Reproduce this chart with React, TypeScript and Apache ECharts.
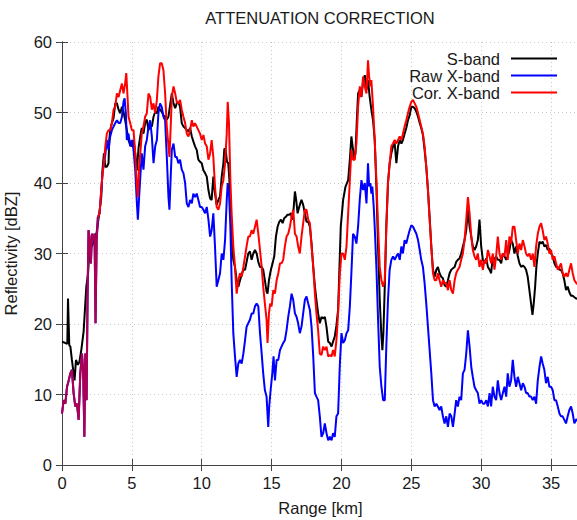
import React, { useEffect, useRef } from "react";
import * as echarts from "echarts";

// Chart text
const TITLE = "ATTENUATION CORRECTION";
const X_NAME = "Range [km]";
const Y_NAME = "Reflectivity [dBZ]";
const SERIES_NAMES = ["S-band", "Raw X-band", "Cor. X-band"];
const X_MIN = 0;
const X_MAX = 37;
const X_STEP = 5;
const Y_MIN = 0;
const Y_MAX = 60;
const Y_STEP = 10;

// S-band reflectivity [km, dBZ]
const sBand: [number, number][] = [
  [0, 17.5], [0.24, 17.3], [0.38, 17.2], [0.43, 23.6], [0.52, 17], [0.6, 16.8], [0.71, 14.9], [0.83, 13], [0.9, 12], [1.0, 14.9],
  [1.14, 14.2], [1.24, 14.6], [1.38, 16.3], [1.55, 19], [1.67, 23], [1.74, 25.3], [1.86, 27], [1.98, 31], [2.14, 31], [2.33, 32],
  [2.48, 33], [2.57, 34.3], [2.69, 36], [2.81, 38], [2.9, 41.9], [3.0, 44.2], [3.1, 42.3], [3.21, 42.3], [3.33, 42.8], [3.38, 46],
  [3.45, 47.5], [3.57, 48.5], [3.69, 49.2], [3.81, 51.3], [3.93, 51.3], [4.05, 50.4], [4.17, 49.9], [4.29, 50.8], [4.4, 50.1], [4.52, 48.9],
  [4.64, 47.5], [4.76, 46.1], [4.88, 45.4], [5.0, 45.2], [5.12, 46.1], [5.24, 44.2], [5.36, 41.8], [5.48, 45], [5.6, 46.6], [5.71, 47.8],
  [5.83, 47], [5.95, 48.5], [6.07, 49], [6.19, 47.5], [6.31, 48.2], [6.43, 48], [6.55, 49.4], [6.67, 50.1], [6.79, 49.9], [6.9, 50.8],
  [7.02, 50.4], [7.14, 50.1], [7.26, 49.6], [7.38, 49.4], [7.5, 49], [7.62, 49.4], [7.74, 51.1], [7.86, 52.7], [7.98, 51.3], [8.1, 50.6],
  [8.21, 51.3], [8.33, 51.5], [8.45, 50.8], [8.57, 48.5], [8.69, 48], [8.81, 47.8], [8.93, 47.5], [9.05, 47.3], [9.17, 47.8], [9.29, 46.6],
  [9.4, 45.9], [9.52, 45.2], [9.64, 44.7], [9.76, 43.3], [9.88, 43], [10, 42.8], [10.12, 41.8], [10.24, 41.4], [10.36, 40.9], [10.48, 39],
  [10.6, 37.8], [10.71, 37.6], [10.83, 40.9], [10.95, 38.5], [11.07, 36.9], [11.19, 37.6], [11.31, 38.1], [11.43, 40.9], [11.55, 42.8], [11.62, 44.9],
  [11.71, 44.7], [11.81, 43], [11.9, 42.8], [11.98, 40.4], [12.07, 35.7], [12.14, 31.9], [12.26, 29.1], [12.38, 28.1], [12.5, 26.2], [12.62, 25.3],
  [12.74, 26.2], [12.86, 27], [12.98, 27.7], [13.1, 27.7], [13.21, 28.8], [13.33, 30], [13.45, 30.3], [13.57, 29.1], [13.69, 30], [13.81, 30.5],
  [13.93, 30], [14.05, 28.8], [14.17, 28.1], [14.29, 28.1], [14.4, 27.7], [14.52, 26.2], [14.64, 24.6], [14.71, 24.3], [14.81, 26.2], [14.95, 27.7],
  [15.07, 28.6], [15.19, 29.6], [15.31, 32.4], [15.43, 33.8], [15.55, 34.5], [15.67, 34.8], [15.79, 34.3], [15.9, 35], [16.02, 35.2], [16.14, 35.5],
  [16.26, 35.5], [16.38, 35.7], [16.48, 34.8], [16.57, 36.2], [16.67, 38.8], [16.76, 37.6], [16.86, 35.7], [16.95, 36.4], [17.05, 37.1], [17.14, 37.6],
  [17.26, 36.9], [17.38, 35.7], [17.5, 34.5], [17.62, 34.5], [17.74, 33.8], [17.86, 31.4], [17.98, 28.1], [18.1, 25.3], [18.21, 23.4], [18.33, 21.5],
  [18.45, 20.1], [18.57, 21], [18.69, 20.8], [18.81, 21], [18.93, 19.6], [19.05, 17.5], [19.17, 17.3], [19.29, 16.8], [19.4, 17.5], [19.52, 18.2],
  [19.64, 19.8], [19.76, 22], [19.84, 27], [19.95, 33.8], [20.12, 37.6], [20.29, 39.5], [20.48, 40.4], [20.6, 43.3], [20.71, 46.6], [20.83, 44.7],
  [20.9, 43.3], [21.0, 44.2], [21.1, 48.9], [21.19, 52.7], [21.31, 53.2], [21.43, 52.2], [21.55, 54.4], [21.67, 55.3], [21.79, 53.2], [21.9, 54.6],
  [22.02, 52.2], [22.14, 50.4], [22.26, 48.9], [22.38, 46.1], [22.5, 39.5], [22.62, 30.9], [22.74, 23.4], [22.86, 18.2], [22.93, 16.3], [23.0, 18.7],
  [23.1, 25.3], [23.21, 33.8], [23.33, 40], [23.45, 42.8], [23.57, 44.2], [23.69, 45.2], [23.81, 45.6], [23.93, 42.8], [24.05, 45.2], [24.17, 46.1],
  [24.29, 45.6], [24.4, 46.1], [24.52, 47], [24.64, 47.8], [24.76, 48.9], [24.88, 49.6], [25.0, 50.8], [25.12, 50.8], [25.24, 50.6], [25.36, 50.1],
  [25.48, 49.4], [25.6, 48.5], [25.71, 47.8], [25.83, 46.8], [25.95, 44.7], [26.07, 42.3], [26.19, 39], [26.31, 35.2], [26.43, 31], [26.55, 27.7],
  [26.67, 26.7], [26.79, 27.7], [26.9, 28.1], [27.02, 27.2], [27.14, 26.7], [27.26, 26.5], [27.38, 25.5], [27.5, 25.3], [27.62, 26.2], [27.74, 27.2],
  [27.86, 27.7], [27.98, 27.9], [28.1, 28.1], [28.21, 28.8], [28.33, 29.1], [28.45, 29.3], [28.57, 30], [28.69, 31], [28.81, 31.9], [28.93, 33.3],
  [29.05, 36.2], [29.17, 33.8], [29.29, 32.4], [29.4, 31], [29.52, 30.5], [29.64, 31], [29.76, 31.9], [29.88, 34.8], [30.0, 31], [30.12, 29.1],
  [30.24, 28.6], [30.36, 29.3], [30.48, 28.1], [30.6, 27.7], [30.71, 27.2], [30.83, 29.6], [30.95, 29.1], [31.07, 29.6], [31.19, 29.1], [31.31, 29.1],
  [31.43, 28.6], [31.55, 30], [31.67, 29.6], [31.79, 29.1], [31.9, 29.6], [32.02, 30.5], [32.14, 31.9], [32.26, 31.4], [32.38, 30], [32.5, 31],
  [32.62, 29.6], [32.74, 28.6], [32.86, 28.1], [32.98, 28.3], [33.1, 28.1], [33.21, 27.7], [33.33, 26.7], [33.45, 24.8], [33.57, 22.9], [33.67, 21.3],
  [33.76, 22.9], [33.86, 25.3], [33.95, 28.1], [34.05, 30], [34.17, 31.7], [34.29, 31.4], [34.4, 31.7], [34.52, 31], [34.64, 31.2], [34.76, 30.5],
  [34.88, 30.7], [35.0, 30], [35.12, 29.6], [35.24, 28.6], [35.36, 28.1], [35.48, 28.1], [35.6, 27.7], [35.71, 27.7], [35.83, 27.2], [35.95, 26.2],
  [36.07, 24.8], [36.19, 25.3], [36.31, 24.5], [36.43, 24], [36.55, 24], [36.67, 23.8], [36.81, 23.6], [37, 23.5],
];

// Raw X-band reflectivity [km, dBZ]
const rawXBand: [number, number][] = [
  [0, 7.3], [0.12, 9.2], [0.24, 8.7], [0.36, 11.1], [0.48, 12], [0.6, 13], [0.71, 13.5], [0.83, 10.2], [0.95, 8.3], [1.07, 8.7],
  [1.19, 6.4], [1.31, 13], [1.43, 15.8], [1.52, 13], [1.6, 4], [1.67, 15.8], [1.76, 9.2], [1.83, 24.3], [1.9, 33.3], [1.98, 31.9],
  [2.07, 28.6], [2.14, 32.8], [2.24, 31.9], [2.33, 32.8], [2.4, 20.1], [2.48, 31.9], [2.57, 35.2],
  [2.69, 35.7], [2.81, 39], [2.9, 41.4], [3.0, 42.8], [3.1, 44], [3.21, 46.1], [3.33, 44.7], [3.45, 46.6], [3.57, 47.5], [3.69, 48],
  [3.81, 48.5], [3.93, 48.9], [4.05, 48.5], [4.17, 48.5], [4.29, 49.4], [4.4, 51.5], [4.48, 52], [4.57, 49.9], [4.64, 46.1], [4.76, 47],
  [4.88, 45.2], [5.0, 46.1], [5.12, 44.7], [5.24, 41.9], [5.36, 37.1], [5.43, 34.8], [5.52, 38], [5.62, 41.4], [5.71, 44.2], [5.83, 41.9],
  [5.95, 45.2], [6.07, 46.1], [6.19, 48], [6.31, 48.9], [6.43, 46.6], [6.55, 42.8], [6.67, 45.2], [6.79, 46.1], [6.9, 49.9], [7.02, 51.3],
  [7.14, 50.8], [7.26, 49.4], [7.38, 48.9], [7.5, 43.7], [7.62, 38], [7.69, 36.2], [7.79, 41.4], [7.86, 44.7], [7.98, 45.6], [8.1, 43.7],
  [8.21, 43.7], [8.33, 42.8], [8.45, 43.3], [8.57, 41.9], [8.69, 41.4], [8.81, 40], [8.93, 37.1], [9.05, 36.6], [9.17, 37.6], [9.29, 37.1],
  [9.4, 38.5], [9.52, 38], [9.64, 38.5], [9.76, 37.6], [9.88, 36.6], [10, 36.6], [10.12, 36.2], [10.24, 35.7], [10.36, 36.6], [10.48, 34.8],
  [10.6, 32.4], [10.71, 33.3], [10.83, 35.7], [10.95, 31], [11.07, 25.3], [11.19, 26.2], [11.31, 27.2], [11.43, 30], [11.55, 29.1], [11.67, 31.9],
  [11.79, 37.6], [11.86, 40], [11.95, 38.5], [12.05, 33.8], [12.14, 26.2], [12.26, 18.7], [12.38, 15.4], [12.5, 12.5], [12.62, 14.4], [12.74, 14.9],
  [12.86, 14.4], [12.98, 15.8], [13.1, 17.7], [13.21, 19.6], [13.33, 20.1], [13.45, 20.6], [13.57, 21.5], [13.69, 21.5], [13.81, 22.5], [13.93, 22.9],
  [14.05, 22.5], [14.17, 18.7], [14.29, 15.8], [14.4, 13], [14.52, 10.6], [14.64, 9.7], [14.76, 5.4], [14.83, 8.3], [14.93, 10.6], [15.05, 13],
  [15.14, 15.4], [15.24, 12], [15.36, 14.9], [15.48, 14.9], [15.6, 16.3], [15.71, 16.8], [15.83, 17.3], [15.95, 17.7], [16.07, 19.1], [16.19, 21],
  [16.31, 22.5], [16.43, 24.3], [16.55, 23.4], [16.67, 21.5], [16.79, 21], [16.9, 20.1], [17.02, 18.7], [17.14, 19.6], [17.26, 21.5], [17.38, 23.4],
  [17.5, 23.9], [17.62, 22.9], [17.74, 22], [17.86, 19.6], [17.98, 15.4], [18.1, 10.2], [18.21, 9.7], [18.33, 9.2], [18.45, 6.9], [18.57, 4],
  [18.69, 4.5], [18.81, 5.9], [18.93, 4.5], [19.05, 3.5], [19.17, 4], [19.29, 3.5], [19.4, 4.5], [19.52, 4], [19.64, 6.9], [19.76, 7.3],
  [19.88, 14], [20, 18.7], [20.12, 17.3], [20.24, 17.7], [20.36, 18.7], [20.48, 19.1], [20.6, 22.5], [20.71, 27.2], [20.83, 32.8], [20.95, 32.4],
  [21.07, 31.4], [21.19, 33.8], [21.31, 37.6], [21.43, 40.4], [21.55, 39], [21.67, 40], [21.79, 37.1], [21.9, 42.8], [21.98, 39.5], [22.07, 40],
  [22.14, 38.5], [22.21, 39.5], [22.31, 36.6], [22.38, 33.8], [22.5, 28.1], [22.62, 20.6], [22.74, 13.9], [22.86, 11.1], [22.98, 9.2], [23.1, 9.2],
  [23.21, 16.8], [23.33, 23.4], [23.45, 27.7], [23.57, 29.1], [23.69, 29.6], [23.81, 29.1], [23.93, 29.6], [24.05, 30], [24.17, 29.1], [24.29, 31],
  [24.4, 30], [24.52, 31.9], [24.64, 31.4], [24.76, 32.4], [24.88, 33.3], [25.0, 34], [25.12, 33.8], [25.24, 33.3], [25.36, 32.8], [25.48, 31.9],
  [25.6, 30.5], [25.71, 29.1], [25.83, 28.1], [25.95, 25.8], [26.07, 22.9], [26.19, 19.6], [26.31, 16.3], [26.43, 13], [26.55, 9.2], [26.67, 8.3],
  [26.79, 8.7], [26.9, 8.3], [27.02, 7.8], [27.14, 8.3], [27.26, 6.9], [27.38, 5.9], [27.5, 6.9], [27.62, 5.4], [27.74, 7.3], [27.86, 6.9],
  [27.98, 5.4], [28.1, 7.3], [28.21, 9.2], [28.33, 8.3], [28.45, 9.7], [28.57, 9.2], [28.69, 13], [28.81, 13.5], [28.93, 15.8], [29.05, 19.1],
  [29.17, 16.8], [29.29, 13.9], [29.4, 12.5], [29.52, 11.1], [29.64, 10.6], [29.76, 10.2], [29.88, 8.7], [30, 9.2], [30.12, 8.7], [30.24, 8.7],
  [30.36, 9.2], [30.48, 8.3], [30.6, 10.2], [30.71, 8.3], [30.83, 11.1], [30.95, 9.7], [31.07, 9.2], [31.19, 12], [31.31, 10.2], [31.43, 9.2],
  [31.55, 10.2], [31.67, 11.1], [31.79, 9.7], [31.9, 13], [32.02, 11.1], [32.14, 12], [32.26, 14.9], [32.38, 12.5], [32.5, 11.1], [32.62, 12.5],
  [32.74, 11.6], [32.86, 10.6], [32.98, 11.6], [33.1, 11.1], [33.21, 10.2], [33.33, 10.2], [33.45, 9.7], [33.57, 9.7], [33.69, 9.2], [33.81, 9.7],
  [33.93, 8.7], [34.05, 12], [34.17, 13.9], [34.29, 15.4], [34.4, 14.4], [34.52, 13.5], [34.64, 11.6], [34.76, 12.5], [34.88, 11.1], [35.0, 11.1],
  [35.12, 10.6], [35.24, 9.2], [35.36, 9.2], [35.48, 8.3], [35.6, 7.3], [35.71, 6.9], [35.83, 6.9], [35.95, 6.4], [36.07, 5.9], [36.19, 6.9],
  [36.31, 7.8], [36.43, 8.3], [36.55, 7.3], [36.67, 5.9], [36.81, 6.5], [37, 6],
];

// Attenuation-corrected X-band reflectivity [km, dBZ]
const corXBand: [number, number][] = [
  [0, 7.3], [0.12, 9.2], [0.24, 8.7], [0.36, 11.1], [0.48, 12], [0.6, 13], [0.71, 13.5], [0.83, 10.2], [0.95, 8.3], [1.07, 8.7],
  [1.19, 6.4], [1.31, 13], [1.43, 15.8], [1.52, 13], [1.6, 4], [1.67, 15.8], [1.76, 9.2], [1.83, 24.3], [1.9, 33.3], [1.98, 31.9],
  [2.07, 28.6], [2.14, 32.8], [2.24, 31.9], [2.33, 32.8], [2.4, 20.1], [2.48, 31.9], [2.57, 35.2], [2.69, 35.7], [2.81, 39], [2.9, 41.4],
  [3.0, 42.8], [3.1, 45.2], [3.21, 47], [3.33, 47.5], [3.45, 47.5], [3.57, 48.5], [3.69, 50.4], [3.81, 50.8], [3.93, 52.7], [4.05, 52.2],
  [4.17, 53.2], [4.29, 54.1], [4.4, 52.7], [4.52, 54.1], [4.6, 55.6], [4.69, 52.2], [4.76, 49.4], [4.88, 48.5], [5.0, 47.5], [5.12, 47.5],
  [5.24, 44.2], [5.36, 39.5], [5.43, 38], [5.52, 42.3], [5.62, 44.7], [5.71, 47], [5.83, 48], [5.95, 49.4], [6.07, 49.9], [6.19, 52.7],
  [6.31, 52.2], [6.43, 50.4], [6.55, 51.3], [6.67, 49.9], [6.79, 51.8], [6.9, 55.1], [7.02, 57], [7.14, 57], [7.26, 56], [7.38, 52.7],
  [7.5, 48], [7.62, 45.2], [7.69, 43.7], [7.79, 48.5], [7.86, 52.2], [7.98, 53.7], [8.1, 52.7], [8.21, 51.5], [8.33, 51.3], [8.45, 51.8],
  [8.57, 50.4], [8.69, 49.4], [8.81, 48.5], [8.93, 47], [9.05, 46.6], [9.17, 47.5], [9.29, 48.9], [9.4, 48], [9.52, 48.5], [9.64, 48],
  [9.76, 47.5], [9.88, 47], [10, 46.1], [10.12, 46.8], [10.24, 45.6], [10.36, 45.2], [10.48, 43.3], [10.6, 44.2], [10.71, 46.1], [10.83, 43.7],
  [10.95, 39.5], [11.07, 36.6], [11.19, 36.2], [11.31, 37.1], [11.43, 39.5], [11.55, 40.4], [11.67, 42.8], [11.79, 47], [11.86, 51.5], [11.95, 48.5],
  [12.05, 40.4], [12.14, 35.7], [12.26, 31], [12.38, 28.1], [12.5, 24.3], [12.62, 26.2], [12.74, 27.2], [12.86, 26.7], [12.98, 28.1], [13.1, 29.6],
  [13.21, 31], [13.33, 32.4], [13.45, 32.4], [13.57, 33.3], [13.69, 32.8], [13.81, 33.8], [13.93, 34.8], [14.05, 32.8], [14.17, 30.5], [14.29, 28.1],
  [14.4, 25.3], [14.52, 22.9], [14.64, 20.6], [14.71, 17.3], [14.81, 21.5], [14.9, 22.9], [15.0, 22.5], [15.12, 24.8], [15.24, 24.3], [15.36, 26.2],
  [15.48, 27.2], [15.6, 28.6], [15.71, 28.6], [15.83, 29.1], [15.95, 31], [16.07, 32.4], [16.19, 32.8], [16.31, 33.8], [16.43, 35.2], [16.55, 36.2],
  [16.67, 32.8], [16.79, 32.4], [16.9, 31], [17.02, 30], [17.14, 32.4], [17.26, 34.3], [17.38, 36.2], [17.5, 36.2], [17.62, 34.8], [17.74, 34.3],
  [17.86, 31], [17.98, 28.1], [18.1, 24.3], [18.21, 21.5], [18.33, 19.1], [18.45, 15.8], [18.57, 15.6], [18.69, 16.8], [18.81, 16.3], [18.93, 16.8],
  [19.05, 15.4], [19.17, 15.6], [19.29, 15.4], [19.4, 16.3], [19.52, 15.4], [19.64, 17.7], [19.76, 21.5], [19.88, 27], [20, 30], [20.12, 30],
  [20.24, 29.1], [20.36, 31], [20.48, 35.7], [20.6, 40.4], [20.71, 44.7], [20.83, 43.3], [20.95, 43.3], [21.07, 45.6], [21.19, 50.8], [21.31, 53.7],
  [21.43, 52.2], [21.55, 55.1], [21.67, 53.7], [21.79, 52.7], [21.9, 57.4], [21.98, 55.1], [22.07, 53.7], [22.14, 54.6], [22.26, 50.8], [22.38, 46.1],
  [22.5, 40.4], [22.62, 33.8], [22.74, 28.1], [22.86, 26.2], [22.98, 25.3], [23.1, 26.2], [23.21, 33.8], [23.33, 40], [23.45, 42.8], [23.57, 45.2],
  [23.69, 45.6], [23.81, 46.1], [23.93, 45.6], [24.05, 46.1], [24.17, 46.6], [24.29, 46.1], [24.4, 47], [24.52, 48], [24.64, 48.9], [24.76, 49.9],
  [24.88, 50.8], [25.0, 51.5], [25.12, 51.8], [25.24, 51.3], [25.36, 50.8], [25.48, 49.9], [25.6, 48.9], [25.71, 48], [25.83, 47], [25.95, 45.2],
  [26.07, 42.3], [26.19, 39], [26.31, 34.8], [26.43, 31], [26.55, 27.2], [26.67, 26.2], [26.79, 26.2], [26.9, 27.2], [27.02, 26.2], [27.14, 25.3],
  [27.26, 26.2], [27.38, 25.8], [27.5, 25.8], [27.62, 24.8], [27.74, 26.2], [27.86, 24.8], [27.98, 24.3], [28.1, 26.2], [28.21, 27.2], [28.33, 27.7],
  [28.45, 28.1], [28.57, 29.1], [28.69, 30], [28.81, 31.9], [28.93, 34.8], [29.05, 38], [29.17, 35.7], [29.29, 32.4], [29.4, 30.5], [29.52, 29.6],
  [29.64, 29.1], [29.76, 30], [29.88, 28.1], [30, 29.1], [30.12, 27.7], [30.24, 29.1], [30.36, 28.6], [30.48, 30.5], [30.6, 29.6], [30.71, 28.6],
  [30.83, 30], [30.95, 27.7], [31.07, 29.6], [31.19, 32.4], [31.31, 30], [31.43, 29.1], [31.55, 30], [31.67, 29.6], [31.79, 31.9], [31.9, 29.1],
  [32.02, 32.4], [32.14, 31.4], [32.26, 33.8], [32.38, 33.8], [32.5, 31.9], [32.62, 30], [32.74, 31.4], [32.86, 30.5], [32.98, 31.9], [33.1, 31],
  [33.21, 30], [33.33, 29.6], [33.45, 30], [33.57, 29.1], [33.69, 30], [33.81, 28.1], [33.93, 31], [34.05, 32.8], [34.17, 33.8], [34.29, 34.3],
  [34.4, 33.3], [34.52, 31.9], [34.64, 32.4], [34.76, 31.4], [34.88, 30], [35.0, 30.5], [35.12, 29.1], [35.24, 29.6], [35.36, 28.6], [35.48, 27.7],
  [35.6, 28.1], [35.71, 28.6], [35.83, 27.2], [35.95, 26.7], [36.07, 27.2], [36.19, 26.7], [36.31, 27.7], [36.43, 28.6], [36.55, 27.2], [36.67, 26.2],
  [36.81, 25.8], [37, 25.5],
];

// Range where raw and corrected X-band overlap (drawn blended)
const OVERLAP_END_KM = 2.6;

const COLORS = ["#000000", "#0000ff", "#ff0000"];
const FONT = "'Liberation Sans', Arial, Helvetica, sans-serif";
const TEXT_COLOR = "#1a1a1a";
const FRAME_COLOR = "#444444";

export default function App() {
  const ref = useRef<HTMLDivElement>(null);

  useEffect(() => {
    if (!ref.current) return;
    const chart = echarts.init(ref.current, undefined, { renderer: "svg" });

    const frameAxis = {
      type: "value" as const,
      axisLine: { show: true, lineStyle: { color: FRAME_COLOR, width: 1 } },
      axisTick: { show: true, inside: true, length: 6, lineStyle: { color: FRAME_COLOR } },
    };

    const lineSeries = (name: string, data: [number, number][], color: string) => ({
      name,
      type: "line" as const,
      data,
      symbol: "none",
      showSymbol: false,
      lineStyle: { color, width: 2 },
      itemStyle: { color },
      emphasis: { disabled: true },
      z: 2,
    });

    chart.setOption({
      animation: false,
      backgroundColor: "#ffffff",
      title: {
        text: TITLE,
        left: 320,
        top: 9,
        padding: 0,
        textAlign: "center",
        textStyle: { fontFamily: FONT, fontSize: 16.5, fontWeight: "normal", color: TEXT_COLOR },
      },
      legend: {
        data: SERIES_NAMES,
        orient: "vertical",
        right: 19,
        top: 50,
        padding: 0,
        align: "right",
        itemWidth: 46,
        itemHeight: 14,
        itemGap: 0,
        itemStyle: { opacity: 0 },
        lineStyle: { width: 2 },
        textStyle: { fontFamily: FONT, fontSize: 16.5, lineHeight: 16, color: TEXT_COLOR, padding: [0, 6, 0, 0] },
      },
      grid: { left: 62, top: 42, width: 517, height: 423, containLabel: false, outerBoundsMode: "none" },
      xAxis: [
        {
          ...frameAxis,
          position: "bottom",
          min: X_MIN,
          max: X_MAX,
          interval: X_STEP,
          name: X_NAME,
          nameLocation: "middle",
          nameGap: 34,
          nameTextStyle: { fontFamily: FONT, fontSize: 16.5, color: TEXT_COLOR },
          axisLabel: {
            fontFamily: FONT,
            fontSize: 16.5,
            color: TEXT_COLOR,
            margin: 9,
            formatter: (v: number) => (v % X_STEP === 0 ? String(v) : ""),
          },
          splitLine: { show: true, lineStyle: { color: "#c8c8c8", type: [1, 3], width: 1 } },
        },
        {
          ...frameAxis,
          position: "top",
          min: X_MIN,
          max: X_MAX,
          interval: X_STEP,
          axisLabel: { show: false },
          splitLine: { show: false },
        },
      ],
      yAxis: [
        {
          ...frameAxis,
          position: "left",
          min: Y_MIN,
          max: Y_MAX,
          interval: Y_STEP,
          name: Y_NAME,
          nameLocation: "middle",
          nameGap: 43,
          nameTextStyle: { fontFamily: FONT, fontSize: 16.5, color: TEXT_COLOR },
          axisLabel: { fontFamily: FONT, fontSize: 16.5, color: TEXT_COLOR, margin: 10 },
          splitLine: { show: true, lineStyle: { color: "#c8c8c8", type: [1, 3], width: 1 } },
        },
        {
          ...frameAxis,
          position: "right",
          min: Y_MIN,
          max: Y_MAX,
          interval: Y_STEP,
          axisLabel: { show: false },
          splitLine: { show: false },
        },
      ],
      series: [
        lineSeries(SERIES_NAMES[0], sBand, COLORS[0]),
        lineSeries(SERIES_NAMES[1], rawXBand, COLORS[1]),
        lineSeries(SERIES_NAMES[2], corXBand, COLORS[2]),
        {
          name: "overlap",
          type: "line",
          data: rawXBand.filter((p) => p[0] <= OVERLAP_END_KM),
          symbol: "none",
          showSymbol: false,
          lineStyle: { color: COLORS[1], width: 2, opacity: 0.32 },
          emphasis: { disabled: true },
          z: 3,
        },
      ],
    });

    return () => chart.dispose();
  }, []);

  return (
    <div
      ref={ref}
      style={{ position: "absolute", left: 0, top: 0, width: 577, height: 520, overflow: "hidden" }}
    />
  );
}
